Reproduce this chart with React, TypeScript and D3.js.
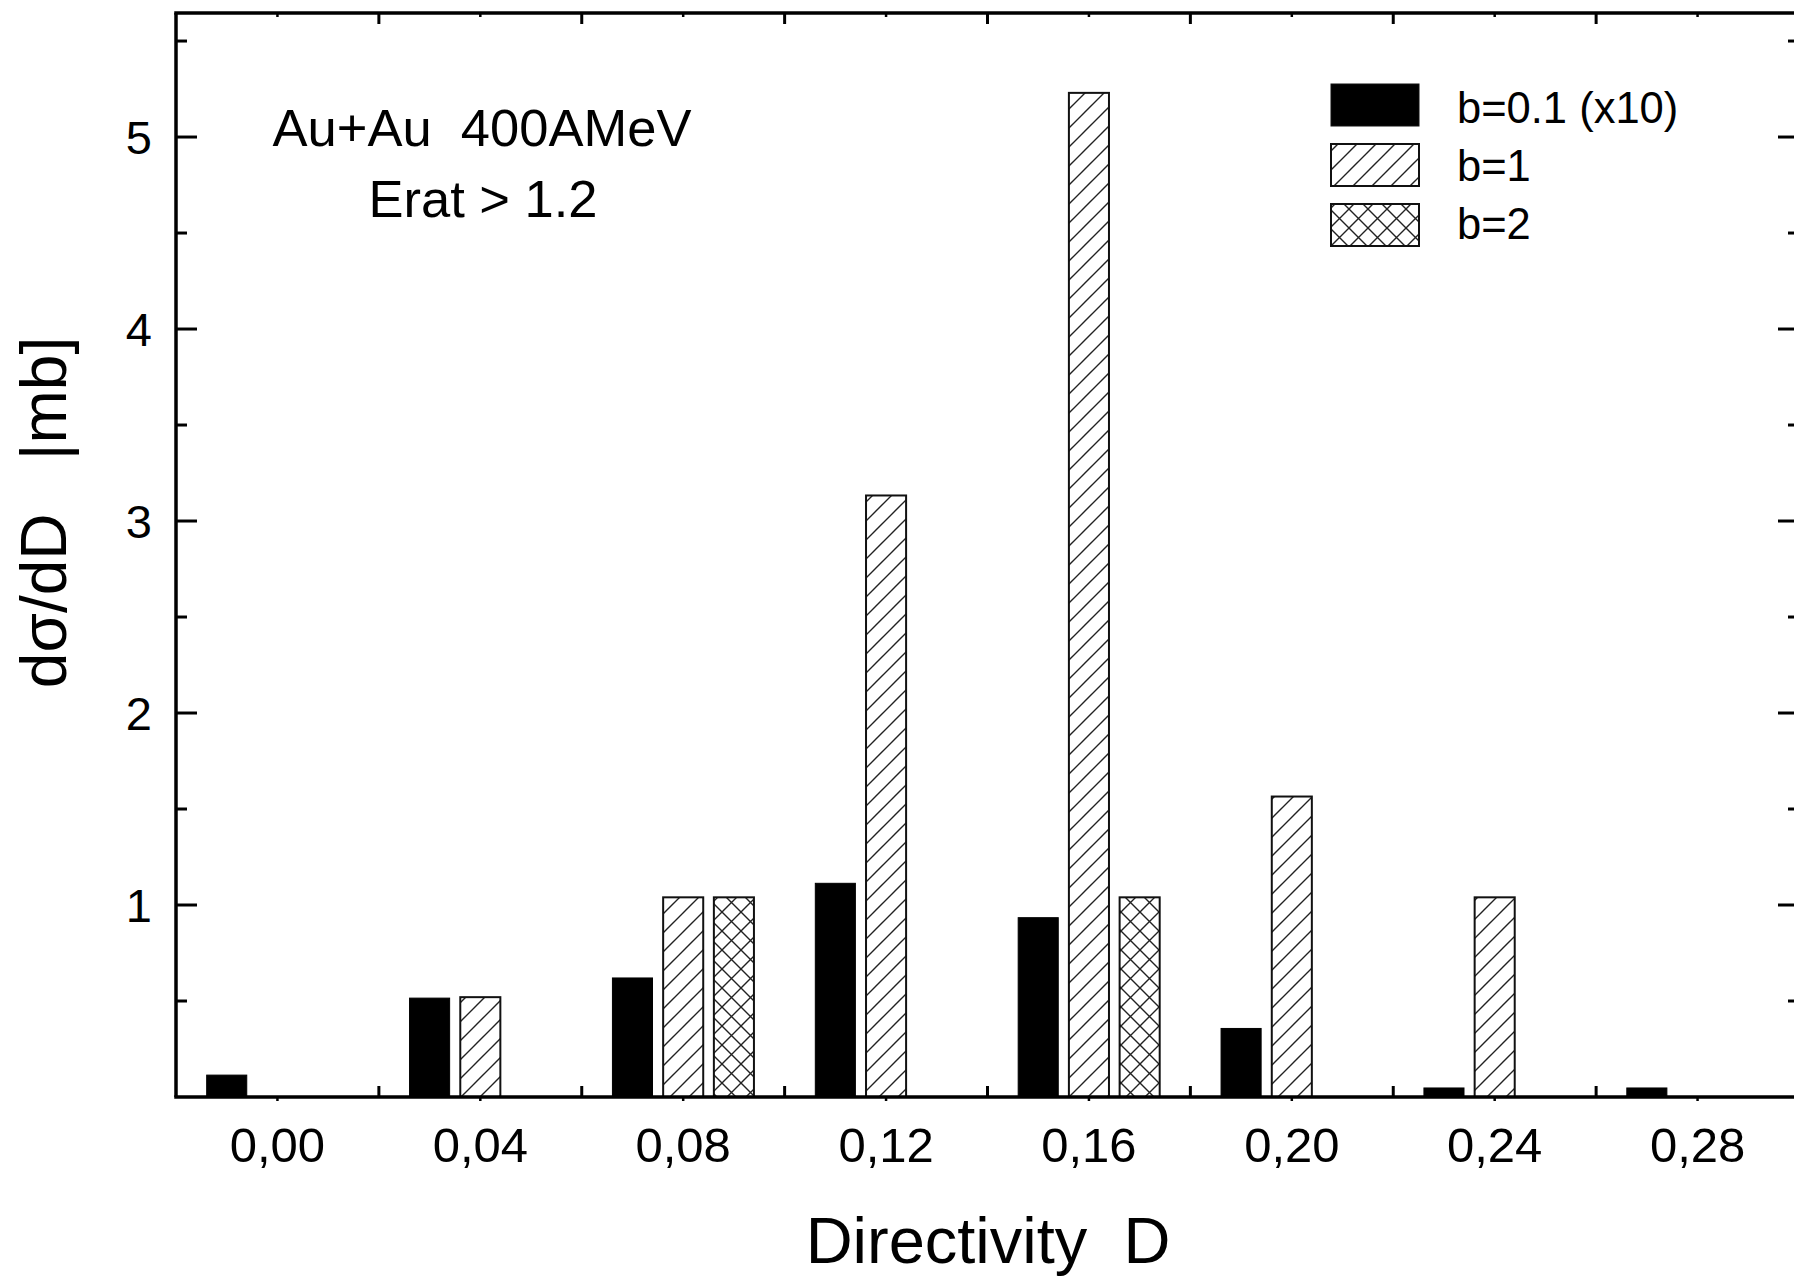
import React from "react";
import * as d3 from "d3";

const categories = [0.0, 0.04, 0.08, 0.12, 0.16, 0.2, 0.24, 0.28];
const seriesB01 = [0.114, 0.515, 0.62, 1.113, 0.934, 0.357, 0.047, 0.047];
const seriesB1 = [0, 0.52, 1.04, 3.133, 5.23, 1.565, 1.04, 0];
const seriesB2 = [0, 0, 1.04, 0, 1.04, 0, 0, 0];
const seriesNames = ["b=0.1 (x10)", "b=1", "b=2"];
const yMajorTicks = [1, 2, 3, 4, 5];
const yMinorTicks = [0.5, 1.5, 2.5, 3.5, 4.5, 5.5];
const xLabelTicks = [0.0, 0.04, 0.08, 0.12, 0.16, 0.2, 0.24, 0.28];
const xMidTicks = [0.02, 0.06, 0.1, 0.14, 0.18, 0.22, 0.26];

const W = 1794;
const H = 1278;
const L = 176;
const R = 1799;
const T = 13;
const B = 1097;
const FONT = "'Liberation Sans', Arial, Helvetica, sans-serif";

export default function App() {
  const x = d3.scaleLinear().domain([-0.02, 0.3]).range([L, R]);
  const y = d3.scaleLinear().domain([0, 5.646]).range([B, T]);
  const barW = x(0.0079) - x(0);
  const fmt = (v: number) => d3.format(".2f")(v).replace(".", ",");

  const series = [
    { values: seriesB01, offset: -0.01, fill: "#000", stroke: "#000" },
    { values: seriesB1, offset: 0, fill: "url(#hatch)", stroke: "#111" },
    { values: seriesB2, offset: 0.01, fill: "url(#cross)", stroke: "#111" },
  ];

  const axisW = 3.5;

  return (
    <svg
      width={W}
      height={H}
      style={{ position: "absolute", left: 0, top: 0, display: "block", background: "#fff" }}
      fontFamily={FONT}
    >
      <defs>
        <pattern id="hatch" patternUnits="userSpaceOnUse" width={19} height={19}>
          <rect width={19} height={19} fill="#fff" />
          <path d="M-4,4 L4,-4 M0,19 L19,0 M15,23 L23,15" stroke="#222" strokeWidth={1.4} />
        </pattern>
        <pattern id="cross" patternUnits="userSpaceOnUse" width={19} height={19}>
          <rect width={19} height={19} fill="#fff" />
          <path
            d="M-4,4 L4,-4 M0,19 L19,0 M15,23 L23,15 M-4,15 L4,23 M0,0 L19,19 M15,-4 L23,4"
            stroke="#222"
            strokeWidth={1.4}
          />
        </pattern>
      </defs>

      {/* bars */}
      {series.map((s, si) =>
        s.values.map((v, i) =>
          v > 0 ? (
            <rect
              key={`b${si}-${i}`}
              x={x(categories[i] + s.offset) - barW / 2}
              y={y(v)}
              width={barW}
              height={y(0) - y(v)}
              fill={s.fill}
              stroke={s.stroke}
              strokeWidth={si === 0 ? 1 : 2}
            />
          ) : null
        )
      )}

      {/* frame */}
      <line x1={L} y1={T} x2={L} y2={B} stroke="#000" strokeWidth={axisW} />
      <line x1={R} y1={T} x2={R} y2={B} stroke="#000" strokeWidth={axisW} />
      <line x1={L - axisW / 2} y1={T} x2={R + axisW / 2} y2={T} stroke="#000" strokeWidth={axisW} />
      <line x1={L - axisW / 2} y1={B} x2={R + axisW / 2} y2={B} stroke="#000" strokeWidth={axisW} />

      {/* y ticks */}
      {yMajorTicks.map((t) => (
        <g key={`ym${t}`}>
          <line x1={L} x2={L + 21} y1={y(t)} y2={y(t)} stroke="#000" strokeWidth={3} />
          <line x1={R} x2={R - 21} y1={y(t)} y2={y(t)} stroke="#000" strokeWidth={3} />
          <text x={152} y={y(t)} dy="0.36em" textAnchor="end" fontSize={47}>
            {t}
          </text>
        </g>
      ))}
      {yMinorTicks.map((t) => (
        <g key={`yn${t}`}>
          <line x1={L} x2={L + 11} y1={y(t)} y2={y(t)} stroke="#000" strokeWidth={3} />
          <line x1={R} x2={R - 11} y1={y(t)} y2={y(t)} stroke="#000" strokeWidth={3} />
        </g>
      ))}

      {/* x ticks */}
      {xMidTicks.map((t) => (
        <g key={`xm${t}`}>
          <line x1={x(t)} x2={x(t)} y1={B} y2={B - 11} stroke="#000" strokeWidth={3} />
          <line x1={x(t)} x2={x(t)} y1={T} y2={T + 11} stroke="#000" strokeWidth={3} />
        </g>
      ))}
      {xLabelTicks.map((t) => (
        <g key={`xl${t}`}>
          <line x1={x(t)} x2={x(t)} y1={B} y2={B + 4} stroke="#000" strokeWidth={2.5} />
          <line x1={x(t)} x2={x(t)} y1={T} y2={T + 4} stroke="#000" strokeWidth={2.5} />
          <text x={x(t)} y={1162} textAnchor="middle" fontSize={49}>
            {fmt(t)}
          </text>
        </g>
      ))}

      {/* axis titles */}
      <text x={988} y={1263} textAnchor="middle" fontSize={65} style={{ whiteSpace: "pre" }}>
        {"Directivity  D"}
      </text>
      <text
        transform={`translate(66,${(335 + 690) / 2}) rotate(-90)`}
        textAnchor="middle"
        fontSize={64}
        style={{ whiteSpace: "pre" }}
      >
        {"dσ/dD   |mb]"}
      </text>

      {/* annotation */}
      <text x={482} y={146} textAnchor="middle" fontSize={52.5} style={{ whiteSpace: "pre" }}>
        {"Au+Au  400AMeV"}
      </text>
      <text x={483} y={217} textAnchor="middle" fontSize={52.5}>
        {"Erat > 1.2"}
      </text>

      {/* legend */}
      {seriesNames.map((name, i) => (
        <g key={name}>
          <rect
            x={1331}
            y={84 + i * 60}
            width={88}
            height={42}
            fill={series[i].fill}
            stroke="#111"
            strokeWidth={i === 0 ? 1 : 2}
          />
          <text x={1457} y={123 + i * 58} fontSize={43.5}>
            {name}
          </text>
        </g>
      ))}
    </svg>
  );
}
